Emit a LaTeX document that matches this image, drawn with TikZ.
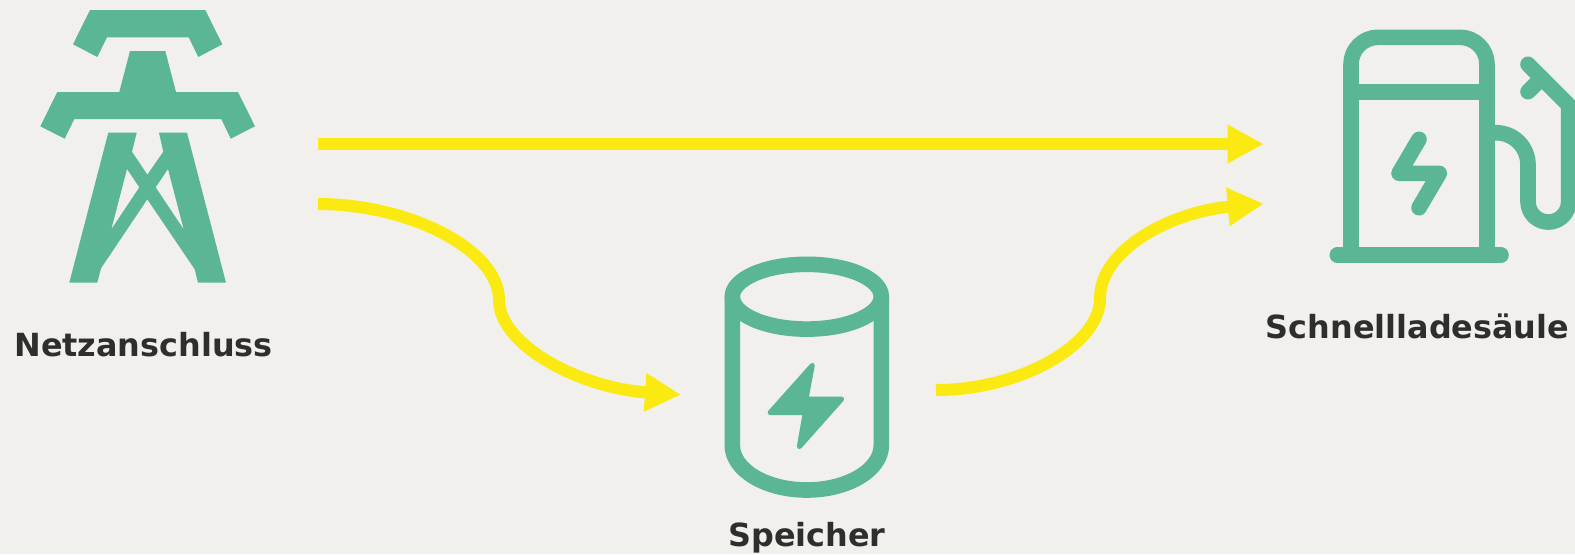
\documentclass[tikz,border=0pt]{standalone}
\usepackage{fontspec}
\setmainfont{DejaVu Sans}
\usetikzlibrary{arrows.meta}
\definecolor{bg}{HTML}{F1F0EC}
\definecolor{grn}{HTML}{5AB693}
\definecolor{ylw}{HTML}{FBE912}
\definecolor{txt}{HTML}{2F2E2E}
\tikzset{
  iconline/.style={draw=grn,line width=11.7pt,line join=round},
  iconfill/.style={fill=grn,even odd rule},
  flow/.style={draw=ylw,line width=9pt,-{Triangle[length=27pt,width=27pt]}},
  lbl/.style={text=txt,anchor=base,font=\fontsize{23.9}{28}\selectfont\bfseries,inner sep=0pt}
}
\begin{document}
\begin{tikzpicture}[x=0.75pt,y=-0.75pt]
\fill[bg] (0,0) rectangle (1575,554);
\clip (0,0) rectangle (1575,554);
% tower
\fill[iconfill] (90,10)--(205.3,10)--(222.3,44.3)--(198.3,57)--(188.7,37.3)--(107,37.3)--(97.3,57)--(73,44.3)--cycle;
\fill[iconfill] (130,51)--(165.3,51)--(176,92)--(238,92)--(255,126.3)--(230.7,138.7)--(221.3,119)--(74.3,119)--(64.7,138.7)--(40.3,126.3)--(57.3,92)--(119.3,92)--cycle;
\fill[iconfill] (108.3,132.7)--(136.7,132.7)--(132,151.7)--(147.3,174.7)--(163.3,151.7)--(159,132.7)--(187,132.7)--(226,282.7)--(198,282.7)--(194.7,269.3)--(147.3,199.3)--(101,268.3)--(97.3,282.7)--(69.3,282.7)--cycle
 (127,169)--(139.3,187.3)--(111.3,229.3)--cycle
 (168,169)--(183.7,229.3)--(155.7,187.3)--cycle;
% cylinder
\draw[iconline] (806.8,296.7) ellipse [x radius=74.5,y radius=32.4];
\draw[iconline,line join=miter] (732.3,296.7)--(732.3,445.3) .. controls (732.3,470) and (765.8,490) .. (806.8,490) .. controls (847.8,490) and (881.3,470) .. (881.3,445.3)--(881.3,296.7);
\filldraw[fill=grn,draw=grn,line width=3.75pt,line join=round] (812.3,365.3)--(806,399)--(841.7,399)--(799.3,446.7)--(805.3,412.7)--(770,412.7)--cycle;
% pump
\draw[iconline] (1351,255)--(1351,64.3) arc[start angle=180,end angle=270,radius=27]--(1460,37.3) arc[start angle=270,end angle=360,radius=27]--(1487,255);
\draw[iconline] (1351,91.7)--(1487,91.7);
\draw[iconline,line cap=round] (1337.3,255)--(1501,255);
\draw[iconline,line cap=round] (1419,139.3)--(1399,173.3)--(1439.3,173.3)--(1419,207.7);
\draw[iconline,line cap=round] (1487,132.7)--(1496,132.7) arc[start angle=270,end angle=360,radius=32]--(1528,201.7) arc[start angle=180,end angle=0,radius=20.35]--(1568.7,105)--(1528,64.3);
\draw[iconline,line cap=round] (1541.7,78)--(1528,91.7);
% labels
\node[lbl] (netz) at (143.5,356) {Netzanschluss};
\node[lbl] (speicher) at (807,546.5) {Speicher};
\node[lbl] (saeule) at (1417.5,338.5) {Schnellladesäule};
% connectors
\coordinate (netzA) at (318,144);
\coordinate (netzB) at (318,204);
\coordinate (saeuleA) at (1263.7,144);
\coordinate (saeuleB) at (1263.7,203.7);
\coordinate (speicherIn) at (681,394.7);
\coordinate (speicherOut) at (936,390);
\draw[flow] (netzA)--(saeuleA);
\draw[flow] (netzB) .. controls (410,204) and (499,250) .. (499,300) .. controls (499,345) and (580,388) .. (speicherIn);
\draw[flow] (speicherOut) .. controls (1020,390) and (1100,345) .. (1100,298.3) .. controls (1100,250) and (1170,212) .. (saeuleB);
\end{tikzpicture}
\end{document}
